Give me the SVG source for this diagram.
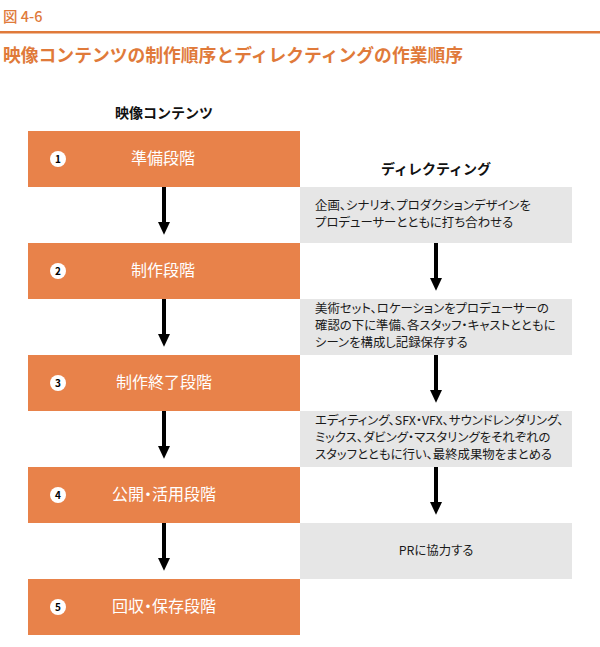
<svg xmlns="http://www.w3.org/2000/svg" width="600" height="647" viewBox="0 0 600 647">
<style>
.t{font-family:"Noto Sans CJK JP","Noto Sans",sans-serif}
.p{font-feature-settings:"palt" 1}
.stage{fill:#E8824A}
.dir{fill:#E6E6E6}
.st{font-size:16px;fill:#fff;text-anchor:middle}
.num{font-size:10px;font-weight:bold;fill:#000;text-anchor:middle}
.gt{font-size:12.4px;fill:#1a1a1a}
.hd{font-size:14px;font-weight:bold;fill:#111;text-anchor:middle}
</style>
<defs>
<marker id="ah" markerWidth="4" markerHeight="3" refX="0" refY="1.5" orient="auto" markerUnits="strokeWidth">
<path d="M0,0 L3.2,1.5 L0,3 Z" fill="#000"/>
</marker>
</defs>
<g id="header">
<text class="t" x="3" y="22" font-size="14.5" font-weight="500" fill="#E07A3A">図 4-6</text>
<rect x="0" y="31" width="600" height="2.5" fill="#E07A3A"/>
<text class="t" x="3" y="62" font-size="17.8" font-weight="bold" fill="#E07A3A">映像コンテンツの制作順序とディレクティングの作業順序</text>
<text class="t hd" x="164" y="118">映像コンテンツ</text>
<text class="t hd" x="436" y="174">ディレクティング</text>
</g>
<g id="connectors" stroke="#000" stroke-width="4" marker-end="url(#ah)">
<line x1="164" y1="186" x2="164" y2="222"/>
<line x1="164" y1="298" x2="164" y2="334"/>
<line x1="164" y1="410" x2="164" y2="446"/>
<line x1="164" y1="522" x2="164" y2="558"/>
<line x1="436" y1="242" x2="436" y2="278"/>
<line x1="436" y1="354" x2="436" y2="390"/>
<line x1="436" y1="466" x2="436" y2="502"/>
</g>
<g id="s1"><rect class="stage" x="28" y="131" width="272" height="56"/><circle cx="58" cy="159" r="8" fill="#fff"/><text class="t num" x="58" y="162.5">1</text><text class="t st p" x="163" y="164">準備段階</text></g>
<g id="s2"><rect class="stage" x="28" y="243" width="272" height="56"/><circle cx="58" cy="271" r="8" fill="#fff"/><text class="t num" x="58" y="274.5">2</text><text class="t st p" x="163" y="276">制作段階</text></g>
<g id="s3"><rect class="stage" x="28" y="355" width="272" height="56"/><circle cx="58" cy="383" r="8" fill="#fff"/><text class="t num" x="58" y="386.5">3</text><text class="t st p" x="164" y="388">制作終了段階</text></g>
<g id="s4"><rect class="stage" x="28" y="467" width="272" height="56"/><circle cx="58" cy="495" r="8" fill="#fff"/><text class="t num" x="58" y="498.5">4</text><text class="t st p" x="164" y="500">公開・活用段階</text></g>
<g id="s5"><rect class="stage" x="28" y="579" width="272" height="56"/><circle cx="58" cy="607" r="8" fill="#fff"/><text class="t num" x="58" y="610.5">5</text><text class="t st p" x="164" y="612">回収・保存段階</text></g>
<g id="d1"><rect class="dir" x="300" y="187" width="272" height="56"/><text class="t gt p" x="315" y="210">企画、シナリオ、プロダクションデザインを</text><text class="t gt p" x="315" y="227">プロデューサーとともに打ち合わせる</text></g>
<g id="d2"><rect class="dir" x="300" y="299" width="272" height="56"/><text class="t gt p" x="315" y="313">美術セット、ロケーションをプロデューサーの</text><text class="t gt p" x="315" y="330">確認の下に準備、各スタッフ・キャストとともに</text><text class="t gt p" x="315" y="347">シーンを構成し記録保存する</text></g>
<g id="d3"><rect class="dir" x="300" y="411" width="272" height="56"/><text class="t gt p" x="315" y="425">エディティング、SFX・VFX、サウンドレンダリング、</text><text class="t gt p" x="315" y="442">ミックス、ダビング・マスタリングをそれぞれの</text><text class="t gt p" x="315" y="459">スタッフとともに行い、最終成果物をまとめる</text></g>
<g id="d4"><rect class="dir" x="300" y="523" width="272" height="56"/><text class="t gt p" x="436" y="555" text-anchor="middle">PRに協力する</text></g>
</svg>
